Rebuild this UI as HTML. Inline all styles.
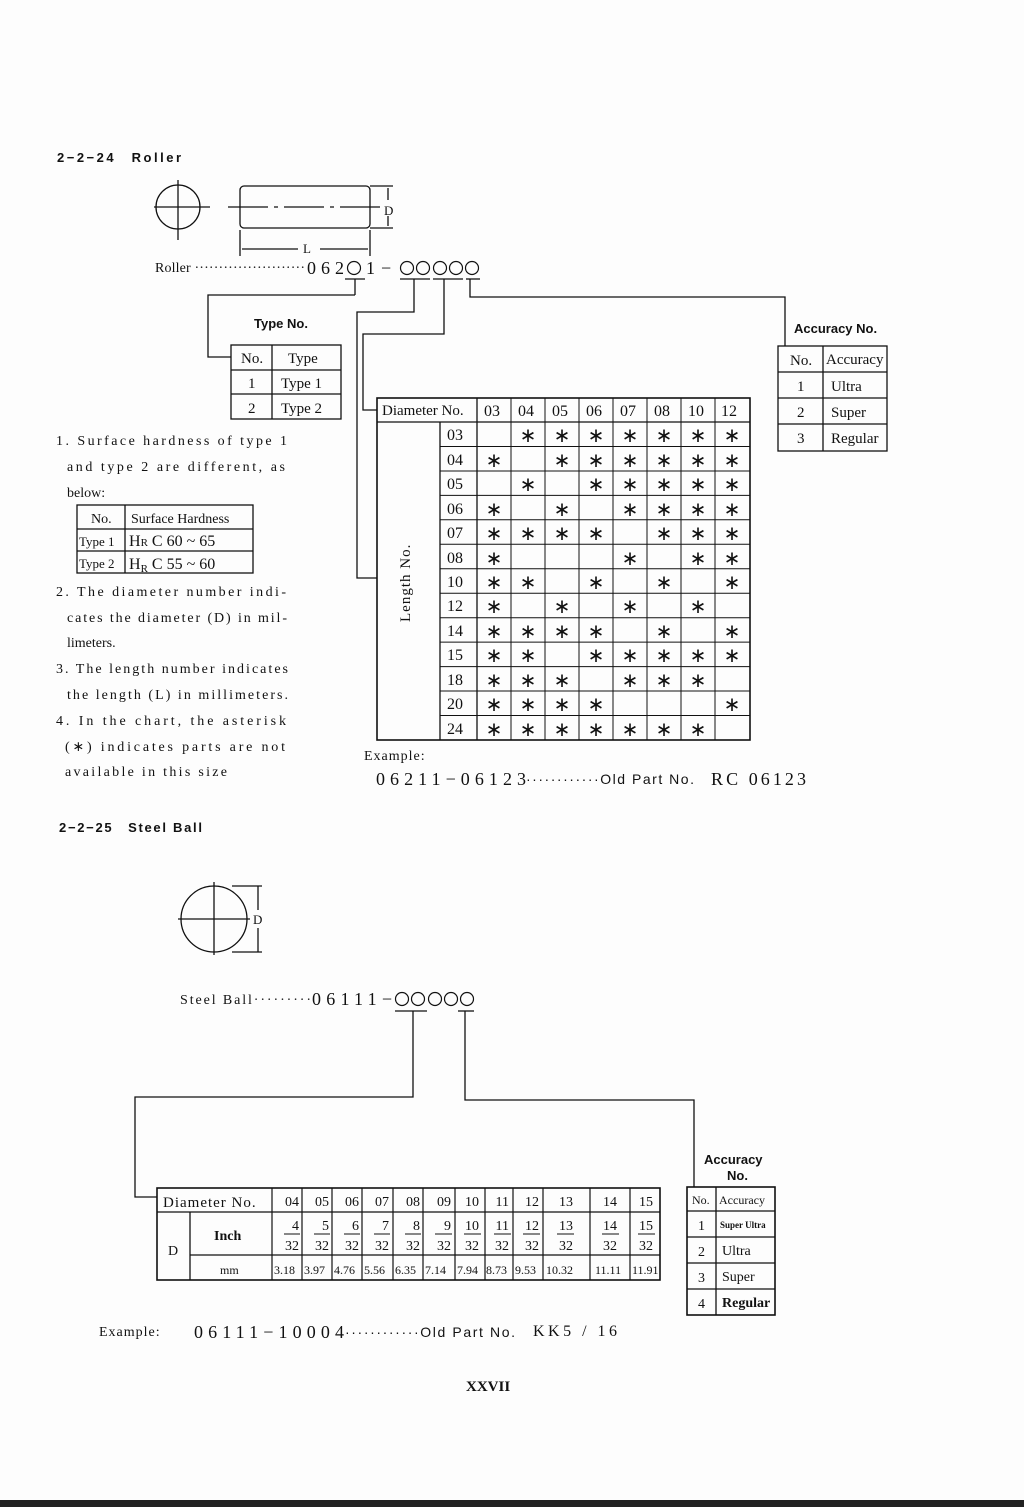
<!DOCTYPE html>
<html><head><meta charset="utf-8"><style>
body{margin:0;background:#fdfdfd}
svg{display:block}
text{font-family:"Liberation Serif",serif;fill:#111}
.b{font-family:"Liberation Sans",sans-serif;font-weight:bold}
.n{font-family:"Liberation Sans",sans-serif}
</style></head><body>
<svg width="1024" height="1507" viewBox="0 0 1024 1507" xmlns="http://www.w3.org/2000/svg" stroke="#111" fill="none" stroke-width="1.3">
<rect x="0" y="0" width="1024" height="1507" fill="#fdfdfd" stroke="none"/>
<rect x="0" y="1500" width="1024" height="7" fill="#222" stroke="none"/>
<g stroke="none">
<text x="57" y="162" class="b" font-size="13" textLength="124">2−2−24　Roller</text>
<text x="59" y="832" class="b" font-size="13" textLength="143">2−2−25　Steel Ball</text>
</g>
<!-- roller drawing -->
<circle cx="178" cy="207" r="22"/>
<line x1="154" y1="207" x2="210" y2="207"/><line x1="178" y1="180" x2="178" y2="240"/>
<rect x="240" y="186" width="130" height="42" rx="4"/>
<line x1="228" y1="207" x2="385" y2="207" stroke-dasharray="40,6,4,6"/>
<line x1="370" y1="186" x2="393" y2="186"/><line x1="370" y1="228" x2="393" y2="228"/>
<line x1="388" y1="188" x2="388" y2="200"/><line x1="388" y1="216" x2="388" y2="226"/>
<line x1="240" y1="230" x2="240" y2="256"/><line x1="370" y1="230" x2="370" y2="256"/>
<line x1="242" y1="249" x2="298" y2="249"/><line x1="320" y1="249" x2="368" y2="249"/>
<g stroke="none">
<text x="384" y="215" font-size="13">D</text>
<text x="303" y="253" font-size="13">L</text>
<text x="155" y="272" font-size="14" textLength="150">Roller ·······················</text>
<text x="307" y="274" font-size="18" textLength="37">062</text>
<text x="366" y="274" font-size="18">1</text>
<text x="381" y="274" font-size="18">−</text>
<text x="254" y="328" class="b" font-size="13">Type No.</text>
<text x="794" y="333" class="b" font-size="13">Accuracy No.</text>
</g>
<g stroke-width="1.2">
<circle cx="354" cy="268" r="6.5"/><circle cx="407" cy="268" r="6.5"/><circle cx="423" cy="268" r="6.5"/><circle cx="440" cy="268" r="6.5"/><circle cx="456" cy="268" r="6.5"/><circle cx="472" cy="268" r="6.5"/>
</g>
<!-- roller connectors -->
<line x1="345" y1="279" x2="365" y2="279"/><line x1="355" y1="279" x2="355" y2="295"/>
<polyline points="355,295 208,295 208,357 231,357"/>
<line x1="400" y1="279" x2="430" y2="279"/><polyline points="414,279 414,312 357,312 357,578 377,578"/>
<line x1="433" y1="279" x2="463" y2="279"/><polyline points="444,279 444,334 363,334 363,410 377,410"/>
<line x1="466" y1="279" x2="480" y2="279"/><polyline points="470,279 470,297 785,297 785,346"/>
<!-- type table -->
<rect x="231" y="345" width="110" height="74"/>
<line x1="231" y1="370" x2="341" y2="370"/><line x1="231" y1="394" x2="341" y2="394"/><line x1="272" y1="345" x2="272" y2="419"/>
<g stroke="none" font-size="15">
<text x="241" y="363">No.</text><text x="288" y="363">Type</text>
<text x="248" y="388">1</text><text x="281" y="388">Type 1</text>
<text x="248" y="413">2</text><text x="281" y="413">Type 2</text>
</g>
<!-- accuracy roller -->
<rect x="778" y="346" width="109" height="105"/>
<line x1="778" y1="372" x2="887" y2="372"/><line x1="778" y1="398" x2="887" y2="398"/><line x1="778" y1="424" x2="887" y2="424"/><line x1="823" y1="346" x2="823" y2="451"/>
<g stroke="none" font-size="15">
<text x="790" y="365">No.</text><text x="826" y="364">Accuracy</text>
<text x="797" y="391">1</text><text x="831" y="391">Ultra</text>
<text x="797" y="417">2</text><text x="831" y="417">Super</text>
<text x="797" y="443">3</text><text x="831" y="443">Regular</text>
</g>
<!-- left notes -->
<g stroke="none" font-size="14">
<text x="56" y="445" textLength="231">1. Surface hardness of type 1</text>
<text x="67" y="471" textLength="218">and type 2 are different, as</text>
<text x="67" y="497">below:</text>
<text x="56" y="596" textLength="230">2. The diameter number indi-</text>
<text x="67" y="622" textLength="220">cates the diameter (D) in mil-</text>
<text x="67" y="647">limeters.</text>
<text x="56" y="673" textLength="232">3. The length number indicates</text>
<text x="67" y="699" textLength="221">the length (L) in millimeters.</text>
<text x="56" y="725" textLength="230">4. In the chart, the asterisk</text>
<text x="65" y="751" textLength="220">(∗) indicates parts are not</text>
<text x="65" y="776" textLength="162">available in this size</text>
</g>
<rect x="77" y="505" width="176" height="68"/>
<line x1="77" y1="529" x2="253" y2="529"/><line x1="77" y1="551" x2="253" y2="551"/><line x1="125" y1="505" x2="125" y2="573"/>
<g stroke="none" font-size="14">
<text x="91" y="523">No.</text><text x="131" y="523">Surface Hardness</text>
<text x="79" y="546" font-size="13">Type 1</text><text x="129" y="546" font-size="16">H<tspan font-size="11">R</tspan> C 60 ~ 65</text>
<text x="79" y="568" font-size="13">Type 2</text><text x="129" y="569" font-size="16">H<tspan font-size="11" dy="3">R</tspan><tspan dy="-3"> C 55 ~ 60</tspan></text>
</g>
<!-- main chart -->
<rect x="377" y="398" width="373" height="342" stroke-width="1.6"/>
<line x1="377" y1="422" x2="750" y2="422"/>
<line x1="440" y1="422" x2="440" y2="740"/>
<line x1="477" y1="398" x2="477" y2="740"/>
<g stroke-width="1">
<line x1="511" y1="398" x2="511" y2="740"/><line x1="545" y1="398" x2="545" y2="740"/><line x1="579" y1="398" x2="579" y2="740"/><line x1="613" y1="398" x2="613" y2="740"/><line x1="647" y1="398" x2="647" y2="740"/><line x1="681" y1="398" x2="681" y2="740"/><line x1="715" y1="398" x2="715" y2="740"/>
<line x1="440" y1="446.5" x2="750" y2="446.5"/><line x1="440" y1="471" x2="750" y2="471"/><line x1="440" y1="495.4" x2="750" y2="495.4"/><line x1="440" y1="519.8" x2="750" y2="519.8"/><line x1="440" y1="544.3" x2="750" y2="544.3"/><line x1="440" y1="568.8" x2="750" y2="568.8"/><line x1="440" y1="593.2" x2="750" y2="593.2"/><line x1="440" y1="617.7" x2="750" y2="617.7"/><line x1="440" y1="642.1" x2="750" y2="642.1"/><line x1="440" y1="666.6" x2="750" y2="666.6"/><line x1="440" y1="691" x2="750" y2="691"/><line x1="440" y1="715.5" x2="750" y2="715.5"/>
</g>
<g stroke="none" font-size="16">
<text x="382" y="415" font-size="15">Diameter No.</text>
<text x="484" y="416">03</text><text x="518" y="416">04</text><text x="552" y="416">05</text><text x="586" y="416">06</text><text x="620" y="416">07</text><text x="654" y="416">08</text><text x="688" y="416">10</text><text x="721" y="416">12</text>
<text transform="translate(410,622) rotate(-90)" font-size="15" letter-spacing="1">Length No.</text>
</g>
<g stroke="none" font-size="16">
<text x="447" y="440">03</text><text x="447" y="465">04</text><text x="447" y="489">05</text><text x="447" y="514">06</text><text x="447" y="538">07</text><text x="447" y="563">08</text><text x="447" y="587">10</text><text x="447" y="611">12</text><text x="447" y="636">14</text><text x="447" y="660">15</text><text x="447" y="685">18</text><text x="447" y="709">20</text><text x="447" y="734">24</text>
</g>
<g stroke="none" font-size="20" text-anchor="middle" font-family="Liberation Sans">
<text y="442"><tspan x="528">∗</tspan><tspan x="562">∗</tspan><tspan x="596">∗</tspan><tspan x="630">∗</tspan><tspan x="664">∗</tspan><tspan x="698">∗</tspan><tspan x="732">∗</tspan></text>
<text y="467"><tspan x="494">∗</tspan><tspan x="562">∗</tspan><tspan x="596">∗</tspan><tspan x="630">∗</tspan><tspan x="664">∗</tspan><tspan x="698">∗</tspan><tspan x="732">∗</tspan></text>
<text y="491"><tspan x="528">∗</tspan><tspan x="596">∗</tspan><tspan x="630">∗</tspan><tspan x="664">∗</tspan><tspan x="698">∗</tspan><tspan x="732">∗</tspan></text>
<text y="516"><tspan x="494">∗</tspan><tspan x="562">∗</tspan><tspan x="630">∗</tspan><tspan x="664">∗</tspan><tspan x="698">∗</tspan><tspan x="732">∗</tspan></text>
<text y="540"><tspan x="494">∗</tspan><tspan x="528">∗</tspan><tspan x="562">∗</tspan><tspan x="596">∗</tspan><tspan x="664">∗</tspan><tspan x="698">∗</tspan><tspan x="732">∗</tspan></text>
<text y="565"><tspan x="494">∗</tspan><tspan x="630">∗</tspan><tspan x="698">∗</tspan><tspan x="732">∗</tspan></text>
<text y="589"><tspan x="494">∗</tspan><tspan x="528">∗</tspan><tspan x="596">∗</tspan><tspan x="664">∗</tspan><tspan x="732">∗</tspan></text>
<text y="613"><tspan x="494">∗</tspan><tspan x="562">∗</tspan><tspan x="630">∗</tspan><tspan x="698">∗</tspan></text>
<text y="638"><tspan x="494">∗</tspan><tspan x="528">∗</tspan><tspan x="562">∗</tspan><tspan x="596">∗</tspan><tspan x="664">∗</tspan><tspan x="732">∗</tspan></text>
<text y="662"><tspan x="494">∗</tspan><tspan x="528">∗</tspan><tspan x="596">∗</tspan><tspan x="630">∗</tspan><tspan x="664">∗</tspan><tspan x="698">∗</tspan><tspan x="732">∗</tspan></text>
<text y="687"><tspan x="494">∗</tspan><tspan x="528">∗</tspan><tspan x="562">∗</tspan><tspan x="630">∗</tspan><tspan x="664">∗</tspan><tspan x="698">∗</tspan></text>
<text y="711"><tspan x="494">∗</tspan><tspan x="528">∗</tspan><tspan x="562">∗</tspan><tspan x="596">∗</tspan><tspan x="732">∗</tspan></text>
<text y="736"><tspan x="494">∗</tspan><tspan x="528">∗</tspan><tspan x="562">∗</tspan><tspan x="596">∗</tspan><tspan x="630">∗</tspan><tspan x="664">∗</tspan><tspan x="698">∗</tspan></text>
</g>
<g stroke="none">
<text x="364" y="760" font-size="14" letter-spacing="1">Example:</text>
<text x="376" y="785" font-size="18" textLength="150">06211−06123</text>
<text x="526" y="784" font-size="14" class="n" textLength="168">············Old Part No.</text>
<text x="711" y="785" font-size="18" textLength="95">RC 06123</text>
</g>
<!-- steel ball -->
<circle cx="214" cy="919" r="33"/>
<line x1="178" y1="919" x2="250" y2="919"/><line x1="214" y1="882" x2="214" y2="955"/>
<line x1="232" y1="886" x2="262" y2="886"/><line x1="232" y1="952" x2="262" y2="952"/>
<line x1="258" y1="886" x2="258" y2="910"/><line x1="258" y1="928" x2="258" y2="952"/>
<g stroke="none">
<text x="253" y="924" font-size="13">D</text>
<text x="180" y="1004" font-size="14" textLength="131">Steel Ball·········</text>
<text x="312" y="1005" font-size="18" textLength="80">06111−</text>
<text x="704" y="1164" class="b" font-size="13">Accuracy</text>
<text x="727" y="1180" class="b" font-size="13">No.</text>
</g>
<g stroke-width="1.2">
<circle cx="402" cy="999" r="6.5"/><circle cx="418" cy="999" r="6.5"/><circle cx="435" cy="999" r="6.5"/><circle cx="451" cy="999" r="6.5"/><circle cx="467" cy="999" r="6.5"/>
</g>
<line x1="395" y1="1011" x2="427" y2="1011"/><polyline points="413,1011 413,1097 135,1097 135,1197 157,1197"/>
<line x1="458" y1="1011" x2="474" y2="1011"/><polyline points="465,1011 465,1100 694,1100 694,1187"/>
<rect x="157" y="1188" width="503" height="92" stroke-width="1.6"/>
<line x1="157" y1="1212" x2="660" y2="1212"/><line x1="190" y1="1255" x2="660" y2="1255"/><line x1="190" y1="1212" x2="190" y2="1280"/>
<g stroke-width="1.2">
<line x1="272" y1="1188" x2="272" y2="1280"/><line x1="302" y1="1188" x2="302" y2="1280"/><line x1="332" y1="1188" x2="332" y2="1280"/><line x1="362" y1="1188" x2="362" y2="1280"/><line x1="393" y1="1188" x2="393" y2="1280"/><line x1="423" y1="1188" x2="423" y2="1280"/><line x1="455" y1="1188" x2="455" y2="1280"/><line x1="485" y1="1188" x2="485" y2="1280"/><line x1="513" y1="1188" x2="513" y2="1280"/><line x1="543" y1="1188" x2="543" y2="1280"/><line x1="590" y1="1188" x2="590" y2="1280"/><line x1="630" y1="1188" x2="630" y2="1280"/>
</g>
<g stroke="none" font-size="14">
<text x="163" y="1207" font-size="15" letter-spacing="1">Diameter No.</text>
<text x="214" y="1240" font-weight="bold">Inch</text><text x="168" y="1255">D</text><text x="220" y="1274" font-size="12">mm</text>
<text y="1206" text-anchor="end"><tspan x="299">04</tspan><tspan x="329">05</tspan><tspan x="359">06</tspan><tspan x="389">07</tspan><tspan x="420">08</tspan><tspan x="451">09</tspan><tspan x="479">10</tspan><tspan x="509">11</tspan><tspan x="539">12</tspan><tspan x="573">13</tspan><tspan x="617">14</tspan><tspan x="653">15</tspan></text>
<text y="1230" text-anchor="end"><tspan x="299">4</tspan><tspan x="329">5</tspan><tspan x="359">6</tspan><tspan x="389">7</tspan><tspan x="420">8</tspan><tspan x="451">9</tspan><tspan x="479">10</tspan><tspan x="509">11</tspan><tspan x="539">12</tspan><tspan x="573">13</tspan><tspan x="617">14</tspan><tspan x="653">15</tspan></text>
<text y="1250" text-anchor="end"><tspan x="299">32</tspan><tspan x="329">32</tspan><tspan x="359">32</tspan><tspan x="389">32</tspan><tspan x="420">32</tspan><tspan x="451">32</tspan><tspan x="479">32</tspan><tspan x="509">32</tspan><tspan x="539">32</tspan><tspan x="573">32</tspan><tspan x="617">32</tspan><tspan x="653">32</tspan></text>
<text y="1274" font-size="12"><tspan x="274">3.18</tspan><tspan x="304">3.97</tspan><tspan x="334">4.76</tspan><tspan x="364">5.56</tspan><tspan x="395">6.35</tspan><tspan x="425">7.14</tspan><tspan x="457">7.94</tspan><tspan x="486">8.73</tspan><tspan x="515">9.53</tspan><tspan x="546">10.32</tspan><tspan x="595">11.11</tspan><tspan x="632">11.91</tspan></text>
</g>
<g stroke-width="1">
<line x1="284" y1="1234" x2="300" y2="1234"/><line x1="314" y1="1234" x2="330" y2="1234"/><line x1="344" y1="1234" x2="360" y2="1234"/><line x1="374" y1="1234" x2="390" y2="1234"/><line x1="405" y1="1234" x2="421" y2="1234"/><line x1="435" y1="1234" x2="452" y2="1234"/><line x1="464" y1="1234" x2="481" y2="1234"/><line x1="494" y1="1234" x2="511" y2="1234"/><line x1="523" y1="1234" x2="540" y2="1234"/><line x1="557" y1="1234" x2="574" y2="1234"/><line x1="602" y1="1234" x2="619" y2="1234"/><line x1="638" y1="1234" x2="655" y2="1234"/>
</g>
<rect x="687" y="1187" width="88" height="128" stroke-width="1.6"/>
<line x1="687" y1="1211" x2="775" y2="1211"/><line x1="687" y1="1237" x2="775" y2="1237"/><line x1="687" y1="1263" x2="775" y2="1263"/><line x1="687" y1="1289" x2="775" y2="1289"/><line x1="716" y1="1187" x2="716" y2="1315"/>
<g stroke="none" font-size="14">
<text x="692" y="1204" font-size="12">No.</text><text x="719" y="1204" font-size="12">Accuracy</text>
<text x="698" y="1230">1</text><text x="720" y="1228" font-size="9" font-weight="bold">Super Ultra</text>
<text x="698" y="1256">2</text><text x="722" y="1255">Ultra</text>
<text x="698" y="1282">3</text><text x="722" y="1281">Super</text>
<text x="698" y="1308">4</text><text x="722" y="1307" font-weight="bold">Regular</text>
</g>
<g stroke="none">
<text x="99" y="1336" font-size="14" letter-spacing="1">Example:</text>
<text x="194" y="1338" font-size="18" textLength="150">06111−10004</text>
<text x="345" y="1337" font-size="14" class="n" textLength="170">············Old Part No.</text>
<text x="533" y="1336" font-size="16" textLength="84">KK5 / 16</text>
<text x="466" y="1391" font-size="15" font-weight="bold">XXVII</text>
</g>
</svg>
</body></html>
